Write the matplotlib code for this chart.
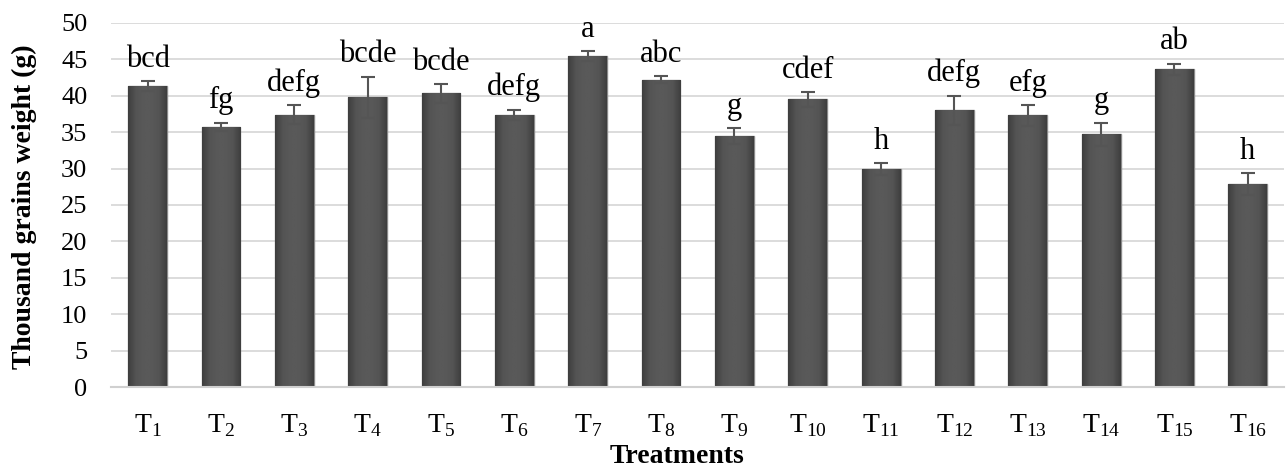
import numpy as np
import matplotlib.pyplot as plt
from matplotlib.colors import LinearSegmentedColormap

plt.rcParams['font.family'] = ['Liberation Serif', 'DejaVu Serif']
plt.rcParams['mathtext.fontset'] = 'custom'
plt.rcParams['mathtext.rm'] = 'Liberation Serif'

treatments = [f"T$_{{{i}}}$" for i in range(1, 17)]
weights = [41.3, 35.7, 37.4, 39.8, 40.3, 37.4, 45.4, 42.2,
           34.4, 39.5, 29.9, 38.0, 37.3, 34.7, 43.6, 27.9]
errors = [0.7, 0.6, 1.3, 2.8, 1.3, 0.7, 0.7, 0.5,
          1.1, 1.0, 0.8, 2.0, 1.4, 1.6, 0.8, 1.5]
letters = ["bcd", "fg", "defg", "bcde", "bcde", "defg", "a", "abc",
           "g", "cdef", "h", "defg", "efg", "g", "ab", "h"]

fig = plt.figure(figsize=(12.86, 4.75), dpi=100)
ax = fig.add_axes([0.0863, 0.185, 0.9125, 0.767])

x = np.arange(len(weights))
bars = ax.bar(x, weights, width=0.53, color="#555555", edgecolor="#8a8a8a",
              linewidth=1.0, zorder=2)

# shaded look: darker sides, flat middle
cmap = LinearSegmentedColormap.from_list(
    "shade", ["#3e3e3e", "#545454", "#595959", "#595959", "#545454", "#3e3e3e"])
grad = np.linspace(0, 1, 64).reshape(1, -1)
for b in bars:
    im = ax.imshow(grad, cmap=cmap, aspect="auto", zorder=2.5,
                   extent=[b.get_x(), b.get_x() + b.get_width(), 0, b.get_height()])
    im.set_clip_path(b)

ax.errorbar(x, weights, yerr=errors, fmt="none", ecolor="#555555",
            elinewidth=1.5, capsize=5, capthick=1.5, zorder=4)

for xi, w, e, s in zip(x, weights, errors, letters):
    ax.text(xi, w + e + 1.0, s, ha="center", va="bottom", fontsize=22, zorder=5)

ax.set_xlim(-0.5, 15.5)
ax.set_ylim(0, 50)
ax.set_yticks(range(0, 51, 5))
ax.set_xticks(x)
ax.set_xticklabels(treatments, fontsize=20)
ax.tick_params(axis="y", labelsize=19, length=0, pad=17)
ax.tick_params(axis="x", length=0, pad=18)

ax.grid(axis="y", color="#d9d9d9", linewidth=1.3, zorder=0)
ax.set_axisbelow(True)
for sp in ["top", "right", "left"]:
    ax.spines[sp].set_visible(False)
ax.spines["bottom"].set_color("#d0d0d0")
ax.spines["bottom"].set_linewidth(1.5)

# axis titles placed by hand, like the original layout
fig.text(677 / 1286, 1 - 463 / 475, "Treatments", fontsize=20,
         fontweight="bold", ha="center", va="baseline")
fig.text(24 / 1286, 1 - 207 / 475, "Thousand grains weight (g)", fontsize=20,
         fontweight="bold", rotation=90, ha="center", va="center")

fig.savefig("out.png", dpi=100)
